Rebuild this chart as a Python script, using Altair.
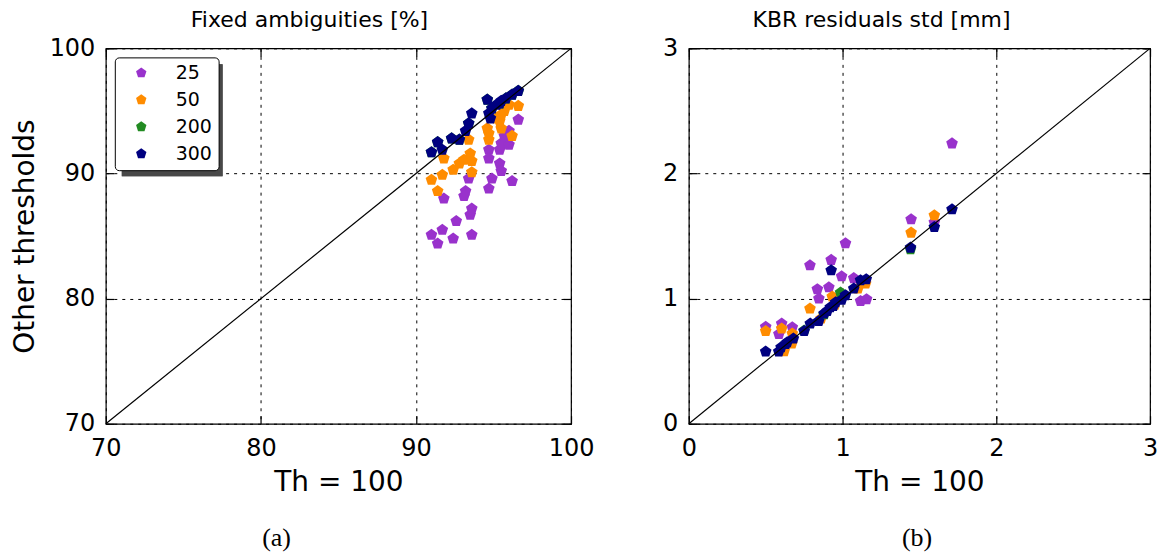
import altair as alt
import pandas as pd

ths = ["25", "50", "200", "300"]
colors = ["#9932CC", "#FF8C00", "#228B22", "#000080"]

# ---- Panel (a): Fixed ambiguities [%] ----
a25_x = [91.0, 91.4, 91.7, 92.4, 93.6, 92.6, 93.5, 93.6, 91.8, 93.2, 93.1, 93.4, 94.7, 94.9, 96.2,
         94.7, 95.4, 95.5, 96.0, 95.7, 94.7, 95.4, 95.5, 96.6, 96.0]
a25_y = [85.1, 84.4, 85.5, 84.8, 85.1, 86.2, 86.7, 87.2, 88.0, 88.6, 88.2, 89.6, 88.8, 89.6, 89.4,
         91.9, 91.9, 92.4, 92.3, 93.0, 91.2, 90.8, 90.2, 94.3, 93.4]
a50_x = [91.0, 91.4, 91.7, 91.8, 92.4, 92.8, 93.1, 93.5, 93.6, 93.6, 93.4, 94.6, 94.7, 94.7, 95.5,
         95.7, 95.4, 96.0, 96.6, 96.2, 95.2, 95.5]
a50_y = [89.5, 88.6, 89.9, 91.2, 90.3, 90.8, 91.1, 91.6, 91.0, 90.1, 92.7, 93.6, 92.7, 93.2, 94.7,
         95.0, 94.2, 95.5, 95.4, 93.0, 94.4, 93.6]
a200_x = [91.0, 91.4, 92.3, 92.8, 93.4, 94.6, 94.9, 95.4, 95.8, 96.2, 96.6]
a200_y = [91.7, 92.5, 92.8, 92.7, 94.0, 95.9, 95.2, 95.6, 96.0, 96.3, 96.6]
a300_x = [91.0, 91.4, 91.7, 92.3, 92.8, 93.2, 93.4, 93.6, 94.6, 94.7, 94.9, 95.4, 95.8, 96.2, 96.6,
          95.2, 95.5, 94.8]
a300_y = [91.7, 92.5, 91.9, 92.8, 92.7, 93.4, 94.0, 94.8, 95.9, 94.8, 95.2, 95.6, 96.0, 96.3, 96.6,
          95.5, 95.8, 94.4]

# ---- Panel (b): KBR residuals std [mm] ----
b25_x = [1.712, 1.446, 1.597, 1.019, 0.926, 0.788, 0.994, 1.073, 1.117, 1.156, 0.911, 0.836, 0.846,
         0.5, 0.604, 0.673, 0.586]
b25_y = [2.24, 1.634, 1.61, 1.442, 1.309, 1.266, 1.178, 1.163, 0.98, 0.995, 1.09, 1.075, 1.0,
         0.774, 0.80, 0.77, 0.716]
b50_x = [1.597, 1.446, 1.15, 0.933, 0.788, 0.5, 0.604, 0.673, 0.62, 0.67, 1.1, 0.95, 0.86]
b50_y = [1.666, 1.527, 1.12, 1.016, 0.92, 0.74, 0.76, 0.72, 0.58, 0.64, 1.08, 0.95, 0.84]
b200_x = [1.442, 0.987, 0.75, 0.88]
b200_y = [1.395, 1.048, 0.745, 0.875]
b300_x = [1.712, 1.597, 1.442, 0.926, 1.117, 1.154, 1.073, 1.019, 0.994, 0.5, 0.585, 0.64, 0.68,
          0.75, 0.79, 0.845, 0.88, 0.92, 0.955, 0.6, 0.63, 0.9, 0.94]
b300_y = [1.713, 1.572, 1.407, 1.226, 1.147, 1.155, 1.08, 1.027, 0.99, 0.577, 0.577, 0.65, 0.68,
          0.74, 0.80, 0.82, 0.88, 0.93, 0.97, 0.61, 0.636, 0.90, 0.94]

a_ticks = [70, 80, 90, 100]
b_ticks = [0, 1, 2, 3]

PENT = "M0,-1L0.951,-0.309L0.588,0.809L-0.588,0.809L-0.951,-0.309Z"
FONT = "DejaVu Sans"


def frame(series):
    rows = []
    for th, (xs, ys) in zip(ths, series):
        for x, y in zip(xs, ys):
            rows.append({"x": x, "y": y, "th": th})
    return pd.DataFrame(rows)


def axis(orient, ticks, labels=True, grid=True, title=None, pad=6, tpad=8):
    kw = dict(orient=orient, values=ticks, offset=-8, tickSize=8, tickColor="black",
              tickWidth=1.2, domain=False, labels=labels, grid=grid,
              labelFont=FONT, labelFontSize=24, labelColor="black", labelPadding=pad,
              labelFlush=False, labelOverlap=False,
              titleFont=FONT, titleFontSize=28, titleFontWeight="normal", titleColor="black",
              titlePadding=tpad)
    if grid:
        kw.update(gridColor="black", gridDash=[3, 5], gridWidth=1)
    kw.update(title=title)
    return alt.Axis(**kw)


def panel(df, ticks, W, H, title, title_dx, ytitle, show_legend):
    lo, hi = ticks[0], ticks[-1]
    xs = alt.Scale(domain=[lo, hi], nice=False, zero=False)
    ys = alt.Scale(domain=[lo, hi], nice=False, zero=False)
    diag_df = pd.DataFrame({"x": [lo, hi], "y": [lo, hi]})
    diag = alt.Chart(diag_df).mark_line(color="black", strokeWidth=1.2).encode(
        x=alt.X("x:Q", scale=xs, axis=axis("top", ticks, labels=False, grid=False)),
        y=alt.Y("y:Q", scale=ys, axis=axis("right", ticks, labels=False, grid=False)),
    )
    if show_legend:
        leg = alt.Legend(orient="none", legendX=9, legendY=9, title=None, symbolType=PENT,
                         symbolSize=120, symbolOffset=11, labelFont=FONT, labelFontSize=19,
                         labelColor="black", labelOffset=25, padding=6, rowPadding=7,
                         fillColor="white", strokeColor="black", cornerRadius=4,
                         symbolStrokeWidth=0)
    else:
        leg = None
    pts = alt.Chart(df).mark_point(shape=PENT, filled=True, size=150, opacity=1).encode(
        x=alt.X("x:Q", scale=xs, axis=axis("bottom", ticks, title="Th = 100", pad=13, tpad=8)),
        y=alt.Y("y:Q", scale=ys, axis=axis("left", ticks, title=ytitle, pad=11, tpad=10)),
        color=alt.Color("th:N", scale=alt.Scale(domain=ths, range=colors), legend=leg),
    )
    layers = []
    if show_legend:
        shadow = alt.Chart(diag_df).mark_rect(color="#484848").encode(
            x=alt.value(16), x2=alt.value(117), y=alt.value(16), y2=alt.value(128))
        layers.append(shadow)
    layers += [pts, diag]
    ch = alt.layer(*layers).resolve_axis(x="independent", y="independent").properties(
        width=W, height=H,
        title=alt.TitleParams(title, font=FONT, fontSize=22, fontWeight="normal",
                              color="black", offset=4, anchor="middle", dx=title_dx))
    return ch


dfa = frame([(a25_x, a25_y), (a50_x, a50_y), (a200_x, a200_y), (a300_x, a300_y)])
dfb = frame([(b25_x, b25_y), (b50_x, b50_y), (b200_x, b200_y), (b300_x, b300_y)])

pa = panel(dfa, a_ticks, 466, 376, "Fixed ambiguities [%]", -29, "Other thresholds", True)
pb = panel(dfb, b_ticks, 462, 376, "KBR residuals std [mm]", -38, None, False)


def wrap(ch, lab, dx):
    return alt.vconcat(ch).properties(
        title=alt.TitleParams(lab, orient="bottom", font="Liberation Serif", fontSize=26,
                              fontWeight="normal", color="black", offset=28,
                              anchor="middle", dx=dx))


chart = alt.hconcat(wrap(pa, "(a)", -26), wrap(pb, "(b)", 7), spacing=67).resolve_scale(
    color="independent").resolve_legend(color="independent").configure_view(
    stroke="black", strokeWidth=1.2).properties(
    padding={"left": 10, "top": 8, "right": 5, "bottom": 5}, background="white")

chart.save("out.html", embed_options={"renderer": "svg", "actions": False})
